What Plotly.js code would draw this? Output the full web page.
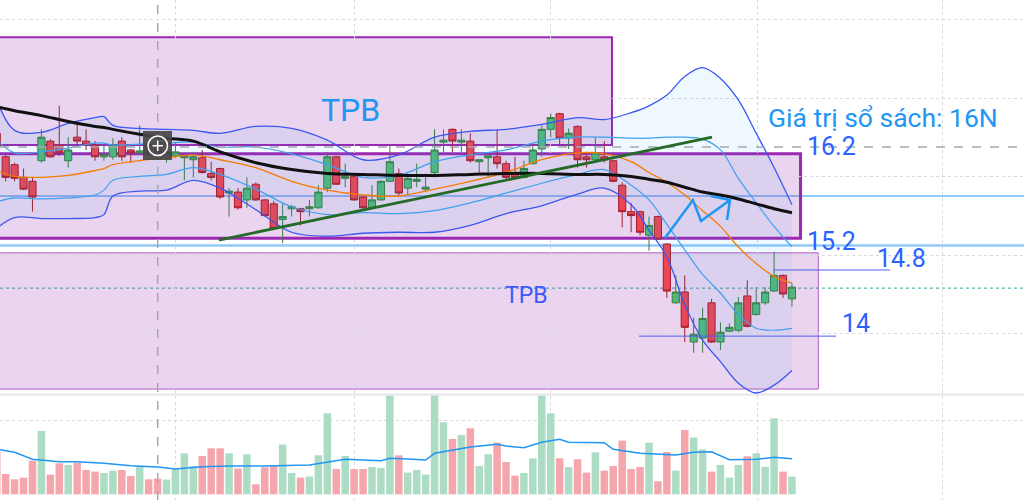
<!DOCTYPE html>
<html>
<head>
<meta charset="utf-8">
<script src="https://cdn.plot.ly/plotly-3.0.1.min.js"></script>
<style>html,body{margin:0;padding:0;background:#fff;}#chart{width:1024px;height:500px;}</style>
</head>
<body>
<div id="chart"></div>
<script>
// ---- Candles (bar index -1 .. 88), price in VND thousand ----
const open = [16.34,16.10,16.02,15.89,15.85,16.06,16.26,16.22,16.06,16.30,16.26,16.22,16.10,16.10,16.26,16.17,16.14,16.21,16.19,16.12,16.11,16.09,16.07,16.09,15.93,15.98,15.73,15.74,15.66,15.82,15.66,15.62,15.46,15.57,15.57,15.57,15.58,15.78,16.10,15.88,15.90,15.69,15.58,15.66,15.85,15.93,15.78,15.85,15.77,15.94,16.25,16.38,16.25,16.26,16.05,16.09,16.10,16.03,15.93,15.89,16.03,16.18,16.38,16.54,16.29,16.41,16.10,16.07,16.10,16.06,15.81,15.54,15.54,15.30,15.49,15.21,14.61,14.72,14.21,14.25,14.61,14.21,14.32,14.33,14.68,14.49,14.61,14.73,14.89,14.65];
const high = [16.36,16.12,16.04,15.98,15.89,16.38,16.28,16.62,16.30,16.46,16.38,16.26,16.22,16.29,16.30,16.18,16.42,16.25,16.24,16.25,16.25,16.12,16.15,16.17,16.05,15.99,15.78,15.78,15.89,15.84,15.67,15.65,15.62,15.61,15.58,15.66,15.81,16.15,16.11,16.03,15.92,15.70,15.81,15.86,16.22,15.98,15.93,16.03,15.93,16.38,16.38,16.39,16.38,16.34,16.07,16.11,16.38,16.06,16.10,16.06,16.22,16.42,16.54,16.55,16.39,16.42,16.15,16.30,16.26,16.07,15.84,15.63,15.55,15.49,15.50,15.22,14.89,14.89,14.46,14.56,14.65,14.41,14.40,14.67,14.84,14.77,14.77,15.13,14.90,14.81];
const low = [16.19,15.85,15.85,15.76,15.54,16.04,16.09,16.11,15.99,16.22,16.17,16.06,16.06,16.07,16.06,16.04,16.13,16.11,16.10,16.04,16.09,15.86,15.89,15.93,15.86,15.67,15.49,15.56,15.58,15.65,15.49,15.36,15.22,15.49,15.40,15.49,15.57,15.74,15.81,15.79,15.65,15.56,15.57,15.65,15.84,15.71,15.71,15.79,15.74,15.89,16.15,16.15,16.15,16.04,15.93,15.89,15.98,15.86,15.88,15.88,16.02,16.10,16.30,16.23,16.18,15.99,15.99,16.06,16.04,15.84,15.38,15.33,15.30,15.14,15.25,14.66,14.60,14.21,14.10,14.10,14.20,14.13,14.31,14.31,14.36,14.48,14.59,14.72,14.66,14.57];
const close = [16.21,15.89,15.88,15.77,15.69,16.30,16.10,16.14,16.17,16.26,16.22,16.10,16.12,16.22,16.10,16.14,16.16,16.16,16.15,16.15,16.15,16.11,16.10,15.94,15.89,15.69,15.75,15.58,15.78,15.66,15.50,15.37,15.49,15.59,15.54,15.59,15.74,16.10,15.82,15.90,15.66,15.58,15.66,15.85,16.05,15.73,15.88,15.87,15.79,16.17,16.27,16.26,16.27,16.06,16.07,16.11,16.03,15.89,15.89,15.98,16.17,16.38,16.50,16.29,16.34,16.07,16.07,16.14,16.07,15.85,15.54,15.50,15.33,15.40,15.26,14.73,14.72,14.36,14.29,14.45,14.21,14.31,14.36,14.61,14.37,14.61,14.72,14.89,14.70,14.77];
// volume, millions of shares
const volume = [4.27,2.03,1.5,1.67,3.37,6.33,1.97,3.1,2.93,3.17,2.43,2.27,2.13,2.37,2.43,1.83,2.77,1.5,1.57,1.47,2.5,4.1,2.83,3.83,4.6,4.6,4.1,2.57,4.0,1.0,2.7,2.9,4.97,2.13,1.67,1.77,3.9,8.1,2.53,3.83,2.53,2.53,2.73,2.63,9.87,3.9,2.17,2.43,1.97,9.87,7.2,5.53,5.93,6.6,2.83,4.0,5.17,3.23,1.87,2.13,3.6,9.87,8.1,3.6,2.73,3.5,2.17,4.2,2.37,2.83,5.37,2.53,2.73,5.17,1.3,4.23,2.37,6.43,5.67,4.5,2.27,2.93,1.67,2.93,3.8,4.1,2.73,7.6,2.27,1.77];

// ---- Indicator lines, read at selected bars ----
const bandIdx = [-1,1,4,7,10,11,12,15,18,21,24,28,32,36,40,44,48,52,56,60,64,67,70,72,74,76,78,80,82,84,86,88];
const bbBasis = [15.96,15.90,15.89,15.91,15.96,15.98,16.02,16.06,16.09,16.12,16.07,15.99,15.85,15.76,15.71,15.70,15.77,15.85,15.94,16.07,16.14,16.13,16.05,15.94,15.84,15.71,15.55,15.39,15.18,15.01,14.88,14.81];
const bbUpper2 = [16.68,16.37,16.35,16.44,16.50,16.51,16.42,16.39,16.38,16.37,16.34,16.41,16.39,16.27,16.07,16.12,16.30,16.36,16.38,16.43,16.50,16.48,16.55,16.62,16.73,16.92,17.01,16.90,16.68,16.34,15.99,15.61];
const bbUpper1 = [16.27,16.14,16.15,16.19,16.24,16.24,16.22,16.23,16.24,16.25,16.20,16.20,16.13,16.02,15.89,15.91,16.05,16.12,16.17,16.26,16.30,16.30,16.29,16.29,16.30,16.30,16.28,16.17,15.88,15.63,15.39,15.18];
const bbLower1 = [15.64,15.68,15.67,15.68,15.71,15.76,15.86,15.90,15.92,15.99,15.92,15.77,15.59,15.51,15.53,15.52,15.55,15.63,15.73,15.83,15.92,15.97,15.81,15.66,15.41,15.15,14.90,14.71,14.49,14.35,14.33,14.35];
const bbLower2 = [15.37,15.48,15.47,15.47,15.48,15.51,15.70,15.75,15.76,15.86,15.78,15.56,15.33,15.29,15.32,15.33,15.33,15.40,15.52,15.60,15.72,15.78,15.61,15.35,15.08,14.59,14.23,14.01,13.79,13.69,13.77,13.92];
const ma50 = [16.61,16.57,16.52,16.46,16.41,16.40,16.38,16.33,16.29,16.26,16.15,16.04,15.97,15.93,15.92,15.91,15.91,15.92,15.93,15.93,15.92,15.92,15.90,15.87,15.84,15.79,15.74,15.71,15.67,15.62,15.57,15.53];
const volMaIdx = [-1,1,3,6,8,11,14,17,19,22,25,29,34,36,38,42,43,45,47,48,50,52,55,56,58,60,62,63,67,68,71,75,77,79,81,84,86,88];
const volMa = [4.5,4.2,3.5,3.26,3.26,3.1,2.85,2.73,2.53,2.76,2.83,2.83,2.93,3.2,3.5,3.36,3.6,3.53,3.43,4.1,4.45,4.74,5.0,4.83,4.66,5.2,5.5,5.2,5.16,4.5,4.1,3.93,4.2,4.26,3.45,3.5,3.7,3.56];

// ---- Drawn levels / labels ----
const levelCross = 16.2, levelBlue = 15.7, level152 = 15.195, levelLast = 14.76;
const level148 = 14.945, level14 = 14.27;
const labels = ['TPB','TPB','Giá trị sổ sách: 16N','16.2','15.2','14.8','14'];

const barIdx = open.map((_, k) => k - 1);
const volColors = close.map((c, k) => c >= open[k] ? '#acdcc4' : '#f5a6ad');

const px = x => x / 1024, py = y => 1 - y / 500;
const DB = '#3a57f2', LB = '#3fa0f0';

const traces = [
  {x: bandIdx, y: bbLower2, type: 'scatter', mode: 'lines', line: {color: DB, width: 1.3, shape: 'spline'}, hoverinfo: 'skip'},
  {x: bandIdx, y: bbUpper2, type: 'scatter', mode: 'lines', fill: 'tonexty', fillcolor: 'rgba(33,150,243,0.07)', line: {color: DB, width: 1.3, shape: 'spline'}, hoverinfo: 'skip'},
  {x: bandIdx, y: bbUpper1, type: 'scatter', mode: 'lines', line: {color: LB, width: 1.2, shape: 'spline'}},
  {x: bandIdx, y: bbLower1, type: 'scatter', mode: 'lines', line: {color: LB, width: 1.2, shape: 'spline'}},
  {x: bandIdx, y: bbBasis, type: 'scatter', mode: 'lines', line: {color: '#f57c00', width: 1.3, shape: 'spline'}},
  {x: bandIdx, y: ma50, type: 'scatter', mode: 'lines', line: {color: '#111111', width: 3, shape: 'spline'}},
  {x: barIdx, open: open, high: high, low: low, close: close, type: 'candlestick',
   increasing: {line: {color: '#3b7d3e', width: 1}, fillcolor: '#52b77d'},
   decreasing: {line: {color: '#a61c2b', width: 1}, fillcolor: '#ec4553'}},
  {x: barIdx, y: volume, type: 'bar', yaxis: 'y2', marker: {color: volColors, line: {width: 0}}},
  {x: volMaIdx, y: volMa, type: 'scatter', mode: 'lines', yaxis: 'y2', line: {color: '#2196f3', width: 1.5}}
];

const boxFill = 'rgba(156,39,176,0.2)';
const shapes = [
  {type: 'rect', xref: 'x', yref: 'y', x0: -5, x1: 67.86, y0: 16.22, y1: 17.32, fillcolor: boxFill, line: {color: '#9c27b0', width: 2}, layer: 'below'},
  {type: 'rect', xref: 'x', yref: 'y', x0: -5, x1: 88.96, y0: 15.27, y1: 16.13, fillcolor: boxFill, line: {color: '#9c27b0', width: 3}, layer: 'below'},
  {type: 'rect', xref: 'x', yref: 'y', x0: -5, x1: 90.95, y0: 13.73, y1: 15.12, fillcolor: boxFill, line: {color: '#b05cc4', width: 1}, layer: 'below'},
  {type: 'line', xref: 'paper', yref: 'y', x0: 0, x1: 1, y0: levelBlue, y1: levelBlue, line: {color: '#2196f3', width: 1}, layer: 'below'},
  {type: 'line', xref: 'paper', yref: 'y', x0: 0, x1: 1, y0: level152, y1: level152, line: {color: '#90caf9', width: 2.5}, layer: 'below'},
  {type: 'line', xref: 'paper', yref: 'y', x0: 0, x1: 1, y0: levelLast, y1: levelLast, line: {color: '#26a69a', width: 1, dash: 'dot'}, layer: 'below'},
  {type: 'line', xref: 'paper', yref: 'paper', x0: 0, x1: 1, y0: py(394.5), y1: py(394.5), line: {color: '#e6e6ec', width: 2}, layer: 'below'},
  {type: 'line', xref: 'paper', yref: 'y', x0: 0, x1: 1, y0: levelCross, y1: levelCross, line: {color: '#a5a8b0', width: 1.5, dash: 'dash'}, layer: 'above'},
  {type: 'line', xref: 'paper', yref: 'paper', x0: px(157.7), x1: px(157.7), y0: 0, y1: 1, line: {color: '#a5a8b0', width: 1.5, dash: 'dash'}, layer: 'above'},
  {type: 'line', xref: 'x', yref: 'y', x0: 85.94, x1: 98.97, y0: level148, y1: level148, line: {color: '#4a62e8', width: 1}, layer: 'above'},
  {type: 'line', xref: 'x', yref: 'y', x0: 70.88, x1: 92.93, y0: level14, y1: level14, line: {color: '#4a62e8', width: 1}, layer: 'above'},
  {type: 'line', xref: 'x', yref: 'y', x0: 23.88, x1: 79.05, y0: 15.25, y1: 16.30, line: {color: '#236b27', width: 2.8}, layer: 'above'},
  {type: 'path', xref: 'x', yref: 'y', path: 'M 73.79,15.271 L 76.92,15.659 L 77.82,15.445 L 81.07,15.659 M 78.94,15.70 L 81.07,15.659 L 80.73,15.455', line: {color: '#2196f3', width: 2.5}, layer: 'above'},
  {type: 'rect', xref: 'paper', yref: 'paper', x0: px(143), x1: px(172), y0: py(160), y1: py(131), fillcolor: 'rgba(70,70,70,0.92)', line: {width: 0}, layer: 'above'},
  {type: 'circle', xref: 'paper', yref: 'paper', x0: px(148), x1: px(167.5), y0: py(155.5), y1: py(136), line: {color: '#ffffff', width: 1.5}, layer: 'above'},
  {type: 'line', xref: 'paper', yref: 'paper', x0: px(152.5), x1: px(163), y0: py(145.7), y1: py(145.7), line: {color: '#ffffff', width: 1.5}, layer: 'above'},
  {type: 'line', xref: 'paper', yref: 'paper', x0: px(157.7), x1: px(157.7), y0: py(140.5), y1: py(151), line: {color: '#ffffff', width: 1.5}, layer: 'above'}
];

const F = 'Roboto, Arial, sans-serif';
const annotations = [
  {text: labels[0], x: px(350), y: py(110), size: 32, color: '#2196f3', xa: 'center'},
  {text: labels[1], x: px(526), y: py(295), size: 23, color: '#3d5afe', xa: 'center'},
  {text: labels[2], x: px(766), y: py(117), size: 26.5, color: '#2196f3', xa: 'left'},
  {text: labels[3], x: px(805), y: py(146), size: 25, color: '#2962ff', xa: 'left'},
  {text: labels[4], x: px(805), y: py(241), size: 25, color: '#2962ff', xa: 'left'},
  {text: labels[5], x: px(875), y: py(258), size: 25, color: '#2962ff', xa: 'left'},
  {text: labels[6], x: px(840), y: py(323), size: 25, color: '#2962ff', xa: 'left'}
].map(a => ({text: a.text, x: a.x, y: a.y, xref: 'paper', yref: 'paper', xanchor: a.xa, yanchor: 'middle', showarrow: false, font: {family: F, size: a.size, color: a.color}}));

const layout = {
  width: 1024, height: 500,
  margin: {l: 0, r: 0, t: 0, b: 0},
  paper_bgcolor: '#ffffff', plot_bgcolor: '#ffffff',
  showlegend: false,
  boxgap: 0.2, boxgroupgap: 0, bargap: 0.16,
  xaxis: {range: [-0.635, 113.97], showticklabels: false, ticks: '', zeroline: false, showline: false,
          tickmode: 'array', tickvals: [19.06, 39.0, 61.0, 84.1, 104.8], showgrid: true,
          gridcolor: '#d6d8de', griddash: 'dot', gridwidth: 1, rangeslider: {visible: false}},
  yaxis: {range: [12.598, 17.7], showticklabels: false, ticks: '', zeroline: false, showline: false,
          tickmode: 'array', tickvals: [17.506, 16.7, 15.894, 15.098, 14.292, 13.407], showgrid: true,
          gridcolor: '#d6d8de', griddash: 'dot', gridwidth: 1},
  yaxis2: {overlaying: 'y', range: [-0.57, 49.43], visible: false, showgrid: false, zeroline: false},
  shapes: shapes,
  annotations: annotations,
  font: {family: F}
};

Plotly.newPlot('chart', traces, layout, {staticPlot: true, displayModeBar: false});
</script>
</body>
</html>
